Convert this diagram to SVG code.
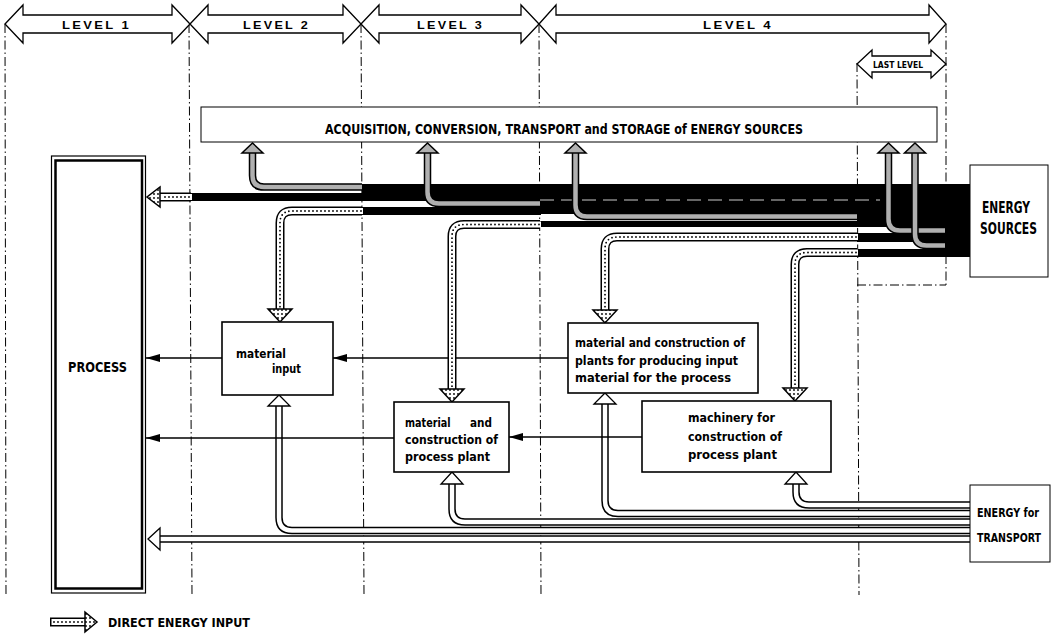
<svg xmlns="http://www.w3.org/2000/svg" width="1053" height="635" viewBox="0 0 1053 635">
<style>
.bg{fill:#fff}
.dash{fill:none;stroke:#000;stroke-width:1;stroke-dasharray:9 3 1.5 3}
.t{font-family:"Liberation Sans Narrow","DejaVu Sans Condensed","Roboto Condensed","Liberation Sans",sans-serif;font-weight:bold;fill:#000}
.lt{font-family:"Liberation Sans","DejaVu Sans",sans-serif;font-weight:bold;fill:#000}
.box{fill:#fff;stroke:#000;stroke-width:1.6}
.thin{fill:#fff;stroke:#000;stroke-width:1}
.lvl{fill:#fff;stroke:#000;stroke-width:1.3;stroke-linejoin:miter}
.blk{fill:#000}
.gOut{fill:none;stroke:#000;stroke-width:7.5}
.gIn{fill:none;stroke:#b0b0b0;stroke-width:4.5}
.gHead{fill:#b0b0b0;stroke:#000;stroke-width:1.5}
.dOut{fill:none;stroke:#000;stroke-width:9}
.dIn{fill:none;stroke:#fff;stroke-width:6}
.dDot{fill:none;stroke:#000;stroke-width:1.8;stroke-dasharray:0 4;stroke-linecap:round}
.dHead{fill:url(#dots);stroke:#000;stroke-width:1.5}
.pOut{fill:none;stroke:#000;stroke-width:7.5}
.pIn{fill:none;stroke:#fff;stroke-width:4.5}
.pHead{fill:#fff;stroke:#000;stroke-width:1.3}
.arr{fill:none;stroke:#000;stroke-width:1.5;marker-end:url(#ah)}
</style>
<defs>
<marker id="ah" viewBox="0 0 14 8" refX="14" refY="4" markerWidth="14" markerHeight="8" markerUnits="userSpaceOnUse" orient="auto"><path d="M0,0 L14,4 L0,8 Z" fill="#000"/></marker>
<pattern id="dots" width="4" height="4" patternUnits="userSpaceOnUse"><rect width="4" height="4" fill="#fff"/><circle cx="2" cy="2" r="0.9" fill="#000"/></pattern>
</defs>
<rect class="bg" x="0" y="0" width="1053" height="635"/>

<g id="level-grid">
<line class="dash" x1="5" y1="24" x2="6" y2="595"/>
<line class="dash" x1="189" y1="24" x2="192" y2="595"/>
<line class="dash" x1="361" y1="24" x2="364" y2="595"/>
<line class="dash" x1="539" y1="24" x2="541" y2="595"/>
<line class="dash" x1="946" y1="24" x2="946" y2="285"/>
<line class="dash" x1="857" y1="63" x2="859" y2="595"/>
<line class="dash" x1="857" y1="285" x2="946" y2="285"/>
</g>

<g id="level-arrows">
<polygon class="lvl" points="5,24 23,5 23,15 172,15 172,5 190,24 172,43 172,33 23,33 23,43"/>
<polygon class="lvl" points="190,24 208,5 208,15 343,15 343,5 361,24 343,43 343,33 208,33 208,43"/>
<polygon class="lvl" points="361,24 379,5 379,15 521,15 521,5 539,24 521,43 521,33 379,33 379,43"/>
<polygon class="lvl" points="539,24 556,5 556,15 929,15 929,5 946,24 929,43 929,33 556,33 556,43"/>
<polygon class="lvl" points="857,64 872,50 872,56 931,56 931,50 946,64 931,78 931,72 872,72 872,78"/>
<text class="lt" x="62" y="28.5" font-size="11" letter-spacing="2" textLength="69" lengthAdjust="spacingAndGlyphs">LEVEL 1</text>
<text class="lt" x="243" y="28.5" font-size="11" letter-spacing="2" textLength="67" lengthAdjust="spacingAndGlyphs">LEVEL 2</text>
<text class="lt" x="417" y="28.5" font-size="11" letter-spacing="2" textLength="67" lengthAdjust="spacingAndGlyphs">LEVEL 3</text>
<text class="lt" x="703" y="28.5" font-size="11" letter-spacing="2" textLength="70" lengthAdjust="spacingAndGlyphs">LEVEL 4</text>
<text class="t" x="873" y="67.5" font-size="8" textLength="50" lengthAdjust="spacingAndGlyphs">LAST LEVEL</text>
</g>

<g id="acquisition">
<rect class="thin" x="201" y="107" width="736" height="35"/>
<text class="t" x="325" y="133.5" font-size="14" textLength="478" lengthAdjust="spacingAndGlyphs">ACQUISITION, CONVERSION, TRANSPORT and STORAGE of ENERGY SOURCES</text>
</g>

<g id="process">
<rect x="51.5" y="156" width="94" height="437" fill="#fff" stroke="#000" stroke-width="1.2"/>
<rect x="55.5" y="160.5" width="86.5" height="428" fill="none" stroke="#000" stroke-width="2.5"/>
<text class="t" x="68" y="371.5" font-size="14" textLength="59" lengthAdjust="spacingAndGlyphs">PROCESS</text>
</g>

<g id="connectors">
<rect class="blk" x="190" y="193" width="173" height="8"/>
<rect class="blk" x="362" y="184" width="179" height="17"/>
<rect class="blk" x="362" y="207" width="179" height="8"/>
<rect class="blk" x="540" y="184" width="318" height="30"/>
<rect class="blk" x="540" y="221" width="430" height="6"/>
<rect class="blk" x="857" y="184" width="113" height="43"/>
<rect class="blk" x="857" y="233" width="113" height="9"/>
<rect class="blk" x="857" y="249" width="113" height="8"/>
<rect class="blk" x="944" y="184" width="26" height="73"/>
<line x1="540" y1="200" x2="880" y2="200" stroke="#fff" stroke-width="0.8" stroke-dasharray="14 7"/>

<path class="gOut" d="M362,187 H264 Q252.5,187 252.5,175.5 V153"/>
<path class="gIn" d="M362,187 H264 Q252.5,187 252.5,175.5 V153"/>
<polygon class="gHead" points="242,153 263,153 252.5,143"/>
<path class="gOut" d="M540,203.5 H439 Q427.5,203.5 427.5,192 V153"/>
<path class="gIn" d="M540,203.5 H439 Q427.5,203.5 427.5,192 V153"/>
<polygon class="gHead" points="417,153 438,153 427.5,143"/>
<path class="gOut" d="M857,216.5 H587 Q575.5,216.5 575.5,205 V153"/>
<path class="gIn" d="M857,216.5 H587 Q575.5,216.5 575.5,205 V153"/>
<polygon class="gHead" points="565,153 586,153 575.5,143"/>
<path class="gOut" d="M945,230.5 H900 Q888.5,230.5 888.5,219 V153"/>
<path class="gIn" d="M945,230.5 H900 Q888.5,230.5 888.5,219 V153"/>
<polygon class="gHead" points="878,153 899,153 888.5,143"/>
<path class="gOut" d="M945,245.5 H926.5 Q915,245.5 915,234 V153"/>
<path class="gIn" d="M945,245.5 H926.5 Q915,245.5 915,234 V153"/>
<polygon class="gHead" points="904.5,153 925.5,153 915,143"/>

<path class="pOut" d="M970,505 H809 Q796,505 796,492 V484"/>
<path class="pIn" d="M970,505 H809 Q796,505 796,492 V484"/>
<polygon class="pHead" points="785,484 807,484 796,472"/>
<path class="pOut" d="M970,513.5 H618 Q605,513.5 605,500.5 V404"/>
<path class="pIn" d="M970,513.5 H618 Q605,513.5 605,500.5 V404"/>
<polygon class="pHead" points="594,404 616,404 605,393"/>
<path class="pOut" d="M970,522 H465 Q452,522 452,509 V484"/>
<path class="pIn" d="M970,522 H465 Q452,522 452,509 V484"/>
<polygon class="pHead" points="441,484 463,484 452,472"/>
<path class="pOut" d="M970,530.5 H292 Q279,530.5 279,517.5 V406"/>
<path class="pIn" d="M970,530.5 H292 Q279,530.5 279,517.5 V406"/>
<polygon class="pHead" points="268,406 290,406 279,395"/>
<path class="pOut" d="M970,539 H160"/>
<path class="pIn" d="M970,539 H159"/>
<polygon class="pHead" points="160,528 160,550 148,539"/>

<line class="arr" x1="222" y1="358" x2="146" y2="358"/>
<line class="arr" x1="568" y1="358" x2="333" y2="358"/>
<line class="arr" x1="394" y1="438" x2="146" y2="438"/>
<line class="arr" x1="642" y1="437" x2="509" y2="437"/>

<path class="dOut" d="M191,197 H160"/>
<path class="dIn" d="M192,197 H159"/>
<path class="dDot" d="M189,197 H162"/>
<polygon class="dHead" points="160,187 160,207 147,197"/>
<path class="dOut" d="M362,211 H292 Q280,211 280,223 V310"/>
<path class="dIn" d="M363,211 H292 Q280,211 280,223 V310"/>
<path class="dDot" d="M361,211 H292 Q280,211 280,223 V309"/>
<polygon class="dHead" points="268,309 292,309 280,322"/>
<path class="dOut" d="M540,224.5 H464 Q452,224.5 452,236.5 V389"/>
<path class="dIn" d="M541,224.5 H464 Q452,224.5 452,236.5 V389"/>
<path class="dDot" d="M539,224.5 H464 Q452,224.5 452,236.5 V388"/>
<polygon class="dHead" points="440,389 464,389 452,402"/>
<path class="dOut" d="M857,237 H617 Q605,237 605,249 V310"/>
<path class="dIn" d="M858,237 H617 Q605,237 605,249 V310"/>
<path class="dDot" d="M856,237 H617 Q605,237 605,249 V309"/>
<polygon class="dHead" points="593,310 617,310 605,323"/>
<path class="dOut" d="M857,252.5 H807 Q795,252.5 795,264.5 V388"/>
<path class="dIn" d="M858,252.5 H807 Q795,252.5 795,264.5 V388"/>
<path class="dDot" d="M856,252.5 H807 Q795,252.5 795,264.5 V387"/>
<polygon class="dHead" points="783,388 807,388 795,401"/>
</g>

<g id="material-input">
<rect class="box" x="222" y="322" width="111" height="73"/>
<text class="t" x="236" y="358" font-size="13" textLength="50" lengthAdjust="spacingAndGlyphs">material</text>
<text class="t" x="272" y="373" font-size="13" textLength="29" lengthAdjust="spacingAndGlyphs">input</text>
</g>

<g id="plants-input-material">
<rect class="box" x="568" y="323" width="190" height="70"/>
<text class="t" x="575" y="347" font-size="13" textLength="170" lengthAdjust="spacingAndGlyphs">material and construction of</text>
<text class="t" x="575" y="365" font-size="13" textLength="163" lengthAdjust="spacingAndGlyphs">plants for producing input</text>
<text class="t" x="575" y="382" font-size="13" textLength="156" lengthAdjust="spacingAndGlyphs">material for the process</text>
</g>

<g id="process-plant">
<rect class="box" x="394" y="402" width="115" height="70"/>
<text class="t" y="427" font-size="13"><tspan x="405" textLength="49" lengthAdjust="spacingAndGlyphs">material </tspan><tspan x="470" textLength="22" lengthAdjust="spacingAndGlyphs">and</tspan></text>
<text class="t" x="405" y="444" font-size="13" textLength="93" lengthAdjust="spacingAndGlyphs">construction of</text>
<text class="t" x="405" y="461" font-size="13" textLength="85" lengthAdjust="spacingAndGlyphs">process plant</text>
</g>

<g id="machinery">
<rect class="box" x="642" y="401" width="189" height="71"/>
<text class="t" x="688" y="422" font-size="13" textLength="87" lengthAdjust="spacingAndGlyphs">machinery for</text>
<text class="t" x="688" y="441" font-size="13" textLength="94" lengthAdjust="spacingAndGlyphs">construction of</text>
<text class="t" x="688" y="459" font-size="13" textLength="89" lengthAdjust="spacingAndGlyphs">process plant</text>
</g>

<g id="energy-sources">
<rect class="thin" x="970" y="165" width="78" height="112"/>
<text class="t" x="982" y="213" font-size="15" textLength="48" lengthAdjust="spacingAndGlyphs">ENERGY</text>
<text class="t" x="980" y="234" font-size="15" textLength="57" lengthAdjust="spacingAndGlyphs">SOURCES</text>
</g>

<g id="energy-transport">
<rect class="thin" x="970" y="485" width="80" height="77"/>
<text class="t" x="977" y="517" font-size="12" textLength="62" lengthAdjust="spacingAndGlyphs">ENERGY for</text>
<text class="t" x="977" y="542" font-size="12" textLength="64" lengthAdjust="spacingAndGlyphs">TRANSPORT</text>
</g>

<g id="legend">
<path class="dOut" d="M50,622 H86"/>
<path class="dIn" d="M51.5,622 H87"/>
<path class="dDot" d="M54,622 H84"/>
<polygon class="dHead" points="85,612 85,632 97,622"/>
<text class="t" x="108" y="627" font-size="12" textLength="142" lengthAdjust="spacingAndGlyphs">DIRECT ENERGY INPUT</text>
</g>
</svg>
